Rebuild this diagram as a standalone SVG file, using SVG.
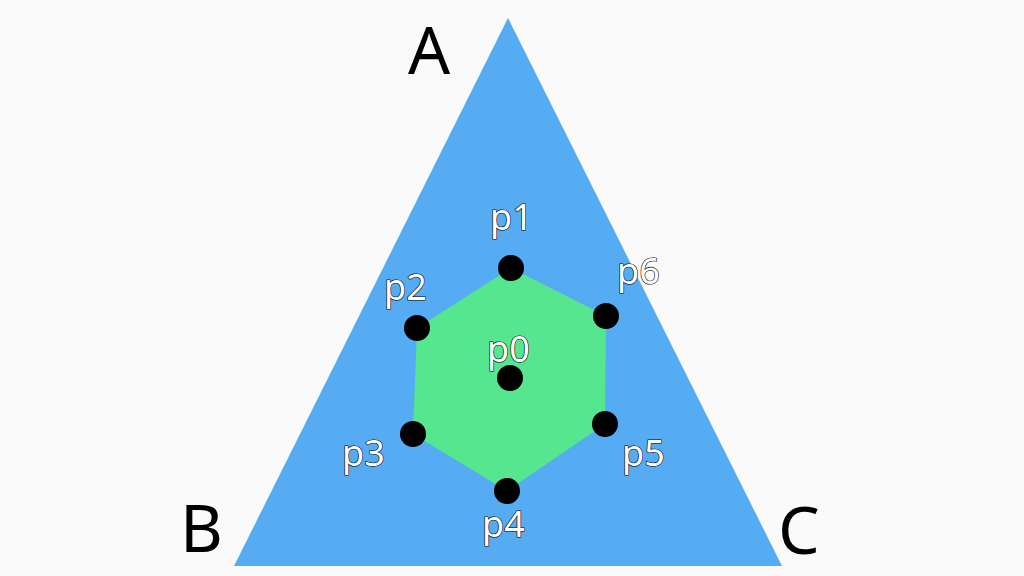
<svg xmlns="http://www.w3.org/2000/svg" width="1024" height="576" viewBox="0 0 1024 576">
<style>
.big{font-family:"Noto Sans","Liberation Sans",sans-serif;font-size:66px;fill:#000}
.lb{font-family:"Noto Sans","Liberation Sans",sans-serif;font-size:36px;fill:#fff;stroke:#000;stroke-width:1.2;paint-order:stroke}
.pt{fill:#000}
</style>
<rect width="1024" height="576" fill="#fafafa"/>
<g id="triangle"><polygon points="508,18 234,566 782,566" fill="#55acf2"/></g>
<g id="hexagon"><polygon points="511,268 606,316 605,424 507,491 413,434 417,328" fill="#55e68f"/></g>
<g id="connectors"></g>
<g id="A"><text class="big" x="408" y="74">A</text></g>
<g id="B"><text class="big" x="180" y="552">B</text></g>
<g id="C"><text class="big" x="778" y="554">C</text></g>
<g id="p0"><circle class="pt" cx="510" cy="378" r="13"/><text class="lb" x="487" y="362">p0</text></g>
<g id="p1"><circle class="pt" cx="511" cy="268" r="13"/><text class="lb" x="490" y="230">p1</text></g>
<g id="p2"><circle class="pt" cx="417" cy="328" r="13"/><text class="lb" x="384" y="300">p2</text></g>
<g id="p3"><circle class="pt" cx="413" cy="434" r="13"/><text class="lb" x="342" y="466">p3</text></g>
<g id="p4"><circle class="pt" cx="507" cy="491" r="13"/><text class="lb" x="482" y="537">p4</text></g>
<g id="p5"><circle class="pt" cx="605" cy="424" r="13"/><text class="lb" x="622" y="466">p5</text></g>
<g id="p6"><circle class="pt" cx="606" cy="316" r="13"/><text class="lb" x="617" y="284">p6</text></g>
</svg>
